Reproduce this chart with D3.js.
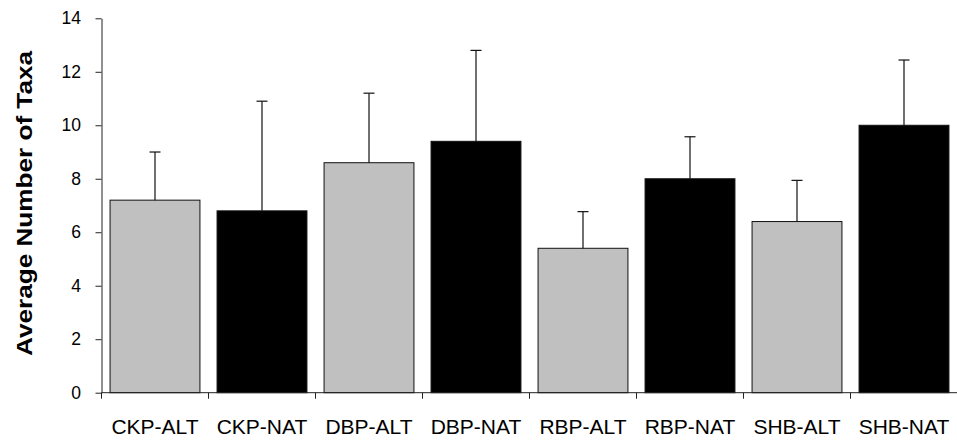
<!DOCTYPE html>
<html>
<head>
<meta charset="utf-8">
<script src="https://d3js.org/d3.v7.min.js"></script>
<style>
    body { margin: 0; background: #fff; }
    svg { display: block; font-family: "Liberation Sans", Arial, sans-serif; }
</style>
</head>
<body>
<div id="chart"></div>
<script>
// Data
const sites = ["CKP-ALT", "CKP-NAT", "DBP-ALT", "DBP-NAT", "RBP-ALT", "RBP-NAT", "SHB-ALT", "SHB-NAT"];
const meanTaxa = [7.2, 6.8, 8.6, 9.4, 5.4, 8.0, 6.4, 10.0];
const errTaxa = [1.8, 4.1, 2.6, 3.4, 1.37, 1.57, 1.54, 2.44];
const yTicks = [0, 2, 4, 6, 8, 10, 12, 14];

const width = 957, height = 443;
const margin = { top: 18.3, right: -0.5, bottom: 50.3, left: 101.5 };

const data = sites.map((s, i) => ({ site: s, mean: meanTaxa[i], err: errTaxa[i] }));

const svg = d3.select("#chart")
    .append("svg")
    .attr("width", width)
    .attr("height", height);

// Scales
const x = d3.scaleBand()
    .domain(sites)
    .range([margin.left, width - margin.right])
    .paddingInner(0.16)
    .paddingOuter(0.08);

const y = d3.scaleLinear()
    .domain([0, 14])
    .range([height - margin.bottom, margin.top]);

// Bars
svg.selectAll(".bar")
    .data(data)
    .enter()
    .append("rect")
    .attr("class", "bar")
    .attr("x", d => x(d.site))
    .attr("y", d => y(d.mean))
    .attr("width", x.bandwidth())
    .attr("height", d => y(0) - y(d.mean))
    .attr("fill", d => d.site.endsWith("ALT") ? "#c0c0c0" : "#000")
    .attr("stroke", "#111")
    .attr("stroke-width", 1);

// Error bars (upper whisker only)
const eb = svg.selectAll(".err")
    .data(data)
    .enter()
    .append("g")
    .attr("class", "err")
    .attr("stroke", "#111")
    .attr("stroke-width", 1.2);

eb.append("line")
    .attr("x1", d => x(d.site) + x.bandwidth() / 2)
    .attr("x2", d => x(d.site) + x.bandwidth() / 2)
    .attr("y1", d => y(d.mean))
    .attr("y2", d => y(d.mean + d.err));

eb.append("line")
    .attr("x1", d => x(d.site) + x.bandwidth() / 2 - 5.5)
    .attr("x2", d => x(d.site) + x.bandwidth() / 2 + 5.5)
    .attr("y1", d => y(d.mean + d.err))
    .attr("y2", d => y(d.mean + d.err));

// Y axis
const yAxis = svg.append("g")
    .attr("transform", `translate(${margin.left}, 0)`)
    .call(d3.axisLeft(y).tickValues(yTicks).tickSize(6).tickPadding(14.5).tickSizeOuter(0));

yAxis.select(".domain").attr("stroke", "#222");
yAxis.selectAll(".tick line").attr("stroke", "#222");
yAxis.selectAll(".tick text")
    .attr("fill", "#000")
    .style("font-size", "17.5px");

// X axis: ticks sit between categories
const xAxisG = svg.append("g")
    .attr("transform", `translate(0, ${y(0)})`);

xAxisG.append("line")
    .attr("x1", margin.left)
    .attr("x2", width)
    .attr("stroke", "#222");

xAxisG.selectAll(".xtick")
    .data(sites)
    .enter()
    .append("line")
    .attr("class", "xtick")
    .attr("x1", d => x(d) - x.step() * x.paddingOuter())
    .attr("x2", d => x(d) - x.step() * x.paddingOuter())
    .attr("y1", 0)
    .attr("y2", 6)
    .attr("stroke", "#222");

xAxisG.selectAll(".xlabel")
    .data(sites)
    .enter()
    .append("text")
    .attr("class", "xlabel")
    .attr("x", d => x(d) + x.bandwidth() / 2)
    .attr("y", 41.5)
    .attr("text-anchor", "middle")
    .style("font-size", "21px")
    .attr("fill", "#000")
    .text(d => d);

// Y axis title
svg.append("text")
    .attr("transform", `translate(31.5, 203.5) rotate(-90)`)
    .attr("text-anchor", "middle")
    .attr("textLength", 305)
    .attr("lengthAdjust", "spacingAndGlyphs")
    .style("font-size", "22px")
    .style("font-weight", "bold")
    .attr("fill", "#000")
    .text("Average Number of Taxa");
</script>
</body>
</html>
